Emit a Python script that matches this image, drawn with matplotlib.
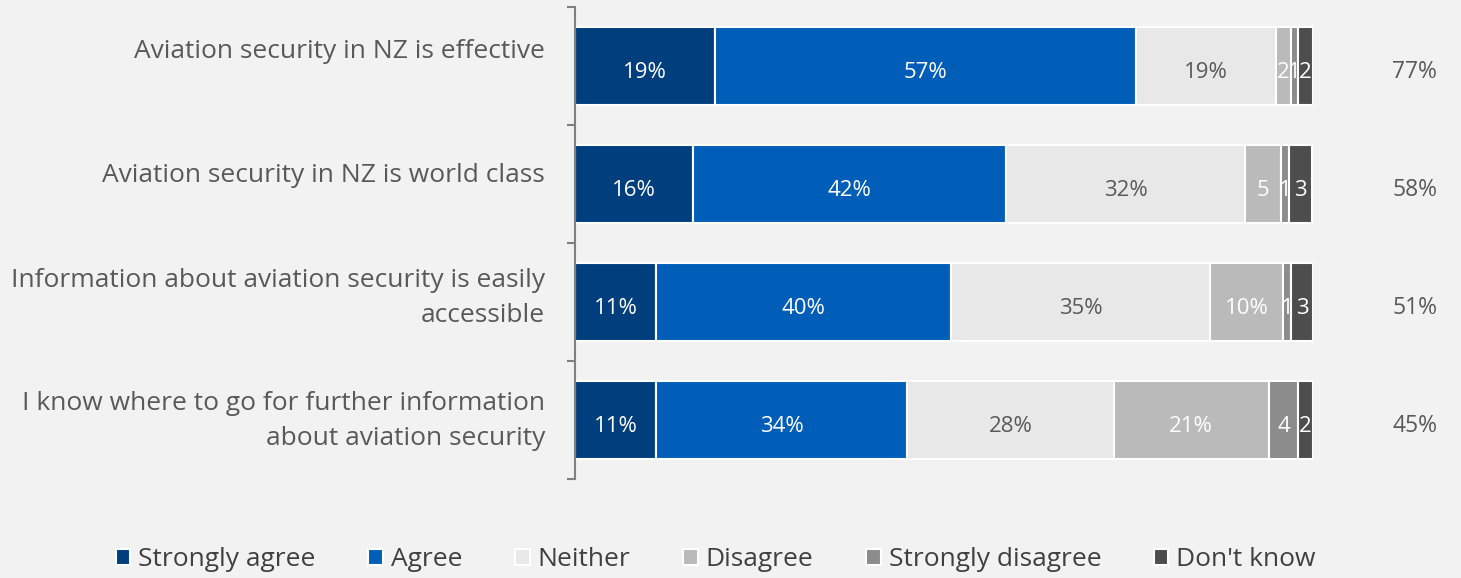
import matplotlib
matplotlib.use("Agg")
import matplotlib.pyplot as plt
import numpy as np
from matplotlib.patches import Patch

categories = [
    "Aviation security in NZ is effective",
    "Aviation security in NZ is world class",
    "Information about aviation security is easily\naccessible",
    "I know where to go for further information\nabout aviation security",
]
series_names = ["Strongly agree", "Agree", "Neither", "Disagree", "Strongly disagree", "Don't know"]
strongly_agree = [19, 16, 11, 11]
agree = [57, 42.4, 40, 34]
neither = [19, 32.4, 35, 28]
disagree = [2, 4.9, 10, 21]
strongly_disagree = [1, 1.0, 1, 4]
dont_know = [2, 3.1, 3, 2]
net_agree = ["77%", "58%", "51%", "45%"]

colors = ["#003E7E", "#005EB8", "#E8E8E8", "#BABABA", "#8C8C8C", "#4D4D4D"]
text_colors = ["white", "white", "#595959", "white", "white", "white"]
pct_threshold = 6  # small segments shown without %
label_offsets_px = [-15, -8, -4, 1]  # vertical placement of category labels

plt.rcParams['font.family'] = ['Open Sans', 'DejaVu Sans']
bg = "#F2F2F2"
fig = plt.figure(figsize=(14.61, 5.78), dpi=100, facecolor=bg)
ax = fig.add_axes([575/1461, 1-479/578, (1313-575)/1461, (479-7)/578], facecolor=bg)

series = [strongly_agree, agree, neither, disagree, strongly_disagree, dont_know]
y = np.arange(len(categories))
left = np.zeros(len(categories))
for name, vals, c, tc in zip(series_names, series, colors, text_colors):
    vals = np.array(vals, dtype=float)
    ax.barh(y, vals, left=left, height=0.66, color=c, edgecolor="white", linewidth=1.5, label=name)
    for yi, (l, v) in enumerate(zip(left, vals)):
        r = int(round(v))
        lab = f"{r}%" if v >= pct_threshold else f"{r}"
        ax.text(l + v/2, yi + 0.055, lab, ha="center", va="center", color=tc, fontsize=16)
    left += vals

for yi, t in enumerate(net_agree):
    ax.text(113.8, yi + 0.05, t, ha="center", va="center", color="#595959", fontsize=16.5, clip_on=False)

for yi, (cat, off) in enumerate(zip(categories, label_offsets_px)):
    ax.annotate(cat, xy=(0, yi), xycoords=("axes fraction", "data"),
                xytext=(-30*0.72, -off*0.72), textcoords="offset points",
                ha="right", va="center", fontsize=19, color="#595959",
                linespacing=1.5, annotation_clip=False)

ax.set_xlim(0, 100)
ax.set_ylim(3.5, -0.5)
ax.set_xticks([])
for s in ["top", "right", "bottom"]:
    ax.spines[s].set_visible(False)
ax.spines["left"].set_color("#808080")
ax.spines["left"].set_linewidth(1.5)
ax.set_yticks(y)
ax.set_yticklabels([])
ax.tick_params(axis="y", which="major", length=0)
ax.set_yticks(np.arange(-0.5, 4, 1), minor=True)
ax.tick_params(axis="y", which="minor", length=6, width=1.5, color="#808080", direction="out")

handles = [Patch(facecolor=c, edgecolor="white", linewidth=1.5) for c in colors]
fig.legend(handles, series_names, loc="center", bbox_to_anchor=(0.49, 1-560/578), ncol=6,
           frameon=False, fontsize=19, handlelength=0.55, handleheight=0.55, handletextpad=0.3,
           columnspacing=2.0, labelcolor="#404040")

fig.savefig("out.png", dpi=100, facecolor=bg)
